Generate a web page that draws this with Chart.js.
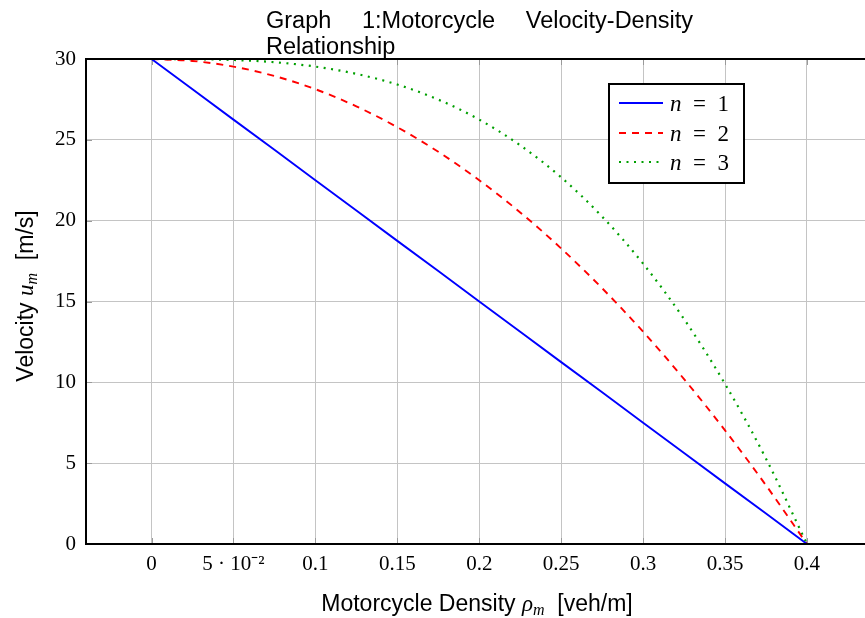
<!DOCTYPE html>
<html>
<head>
<meta charset="utf-8">
<script src="https://cdn.jsdelivr.net/npm/chart.js@4/dist/chart.umd.min.js"></script>
<style>
  body { margin: 0; overflow: hidden; background: #fff; }
  #wrap { width: 880px; height: 618px; }
</style>
</head>
<body>
<div id="wrap"><canvas id="chart" width="880" height="618"></canvas></div>
<script>
// density values (veh/m) read along the x axis
var density = [0, 0.025, 0.05, 0.075, 0.1, 0.125, 0.15, 0.175, 0.2, 0.225, 0.25, 0.275, 0.3, 0.325, 0.35, 0.375, 0.4];
// velocity curves
var velN1 = [30, 28.13, 26.25, 24.38, 22.5, 20.63, 18.75, 16.88, 15, 13.13, 11.25, 9.38, 7.5, 5.63, 3.75, 1.88, 0];
var velN2 = [30, 29.88, 29.53, 28.95, 28.13, 27.07, 25.78, 24.26, 22.5, 20.51, 18.28, 15.82, 13.13, 10.2, 7.03, 3.63, 0];
var velN3 = [30, 29.99, 29.94, 29.8, 29.53, 29.08, 28.42, 27.49, 26.25, 24.66, 22.68, 20.25, 17.34, 13.91, 9.9, 5.28, 0];
var seriesNames = ["1", "2", "3"];

var xTicks = [0, 0.05, 0.1, 0.15, 0.2, 0.25, 0.3, 0.35, 0.4];
var xTickLabels = ["0", "5 \u00b7 10\u207b\u00b2", "0.1", "0.15", "0.2", "0.25", "0.3", "0.35", "0.4"];
var yTicks = [0, 5, 10, 15, 20, 25, 30];

var titleWords = ["Graph", "1:Motorcycle", "Velocity-Density"];
var titleLine2 = "Relationship";

var SANS = '"Liberation Sans", Arial, sans-serif';
var SERIF = '"Liberation Serif", "Times New Roman", serif';

function pts(ys) {
  var out = [];
  for (var i = 0; i < density.length; i++) out.push({x: density[i], y: ys[i]});
  return out;
}

// draws text made of pieces: [text, font, dy]
function drawPieces(ctx, pieces, x, y) {
  for (var i = 0; i < pieces.length; i++) {
    ctx.font = pieces[i][1];
    ctx.fillText(pieces[i][0], x, y + (pieces[i][2] || 0));
    x += ctx.measureText(pieces[i][0]).width;
  }
}
function piecesWidth(ctx, pieces) {
  var w = 0;
  for (var i = 0; i < pieces.length; i++) {
    ctx.font = pieces[i][1];
    w += ctx.measureText(pieces[i][0]).width;
  }
  return w;
}

var decor = {
  id: 'decor',
  beforeDatasetsDraw: function(chart) {
    var ctx = chart.ctx, a = chart.chartArea;
    ctx.save();
    // little inner tick marks
    ctx.strokeStyle = '#9a9a9a';
    ctx.lineWidth = 1;
    var xs = chart.scales.x, ys = chart.scales.y;
    xTicks.forEach(function(v) {
      var px = Math.round(xs.getPixelForValue(v)) + 0.5;
      ctx.beginPath(); ctx.moveTo(px, a.bottom); ctx.lineTo(px, a.bottom - 6); ctx.stroke();
      ctx.beginPath(); ctx.moveTo(px, a.top); ctx.lineTo(px, a.top + 6); ctx.stroke();
    });
    yTicks.forEach(function(v) {
      var py = Math.round(ys.getPixelForValue(v)) + 0.5;
      ctx.beginPath(); ctx.moveTo(a.left, py); ctx.lineTo(a.left + 6, py); ctx.stroke();
    });
    ctx.restore();
  },
  afterDatasetsDraw: function(chart) {
    var ctx = chart.ctx, a = chart.chartArea;
    ctx.save();
    // frame
    ctx.strokeStyle = '#000';
    ctx.lineWidth = 2;
    ctx.strokeRect(a.left, a.top, a.right - a.left, a.bottom - a.top);

    // title, justified first line
    ctx.fillStyle = '#000';
    ctx.textBaseline = 'alphabetic';
    ctx.font = '23.5px ' + SANS;
    var tl = 266, tr = 693, total = 0;
    titleWords.forEach(function(w) { total += ctx.measureText(w).width; });
    var gap = (tr - tl - total) / (titleWords.length - 1);
    var tx = tl;
    titleWords.forEach(function(w) { ctx.fillText(w, tx, 28); tx += ctx.measureText(w).width + gap; });
    ctx.fillText(titleLine2, tl, 54);

    // x axis title
    var xp = [
      ['Motorcycle Density ', '23px ' + SANS],
      ['\u03c1', 'italic 23px ' + SERIF],
      ['m', 'italic 16px ' + SERIF, 4],
      ['  [veh/m]', '23px ' + SANS]
    ];
    var w = piecesWidth(ctx, xp);
    drawPieces(ctx, xp, 477 - w / 2, 611);

    // y axis title
    var yp = [
      ['Velocity ', '23px ' + SANS],
      ['u', 'italic 23px ' + SERIF],
      ['m', 'italic 16px ' + SERIF, 4],
      ['  [m/s]', '23px ' + SANS]
    ];
    w = piecesWidth(ctx, yp);
    ctx.save();
    ctx.translate(33, 296);
    ctx.rotate(-Math.PI / 2);
    drawPieces(ctx, yp, -w / 2, 0);
    ctx.restore();

    // legend
    var lx = 609, ly = 84, lw = 135, lh = 99;
    ctx.fillStyle = '#fff';
    ctx.fillRect(lx, ly, lw, lh);
    ctx.strokeStyle = '#000';
    ctx.lineWidth = 2;
    ctx.strokeRect(lx, ly, lw, lh);
    var rows = [103, 133, 162];
    chart.data.datasets.forEach(function(ds, i) {
      ctx.save();
      ctx.strokeStyle = ds.borderColor;
      ctx.lineWidth = ds.borderWidth;
      ctx.lineCap = ds.borderCapStyle || 'butt';
      ctx.setLineDash(ds.borderDash || []);
      ctx.beginPath(); ctx.moveTo(619, rows[i]); ctx.lineTo(663, rows[i]); ctx.stroke();
      ctx.restore();
      ctx.fillStyle = '#000';
      drawPieces(ctx, [
        ['n', 'italic 23px ' + SERIF],
        ['\u2002=\u2002' + seriesNames[i], '23px ' + SERIF]
      ], 670, rows[i] + 8);
    });
    ctx.restore();
  }
};

new Chart(document.getElementById('chart'), {
  type: 'line',
  data: {
    datasets: [{
      label: 'n = 1',
      data: pts(velN1),
      borderColor: '#0000ff',
      borderWidth: 1.9,
      pointRadius: 0
    }, {
      label: 'n = 2',
      data: pts(velN2),
      borderColor: '#ff0000',
      borderWidth: 1.9,
      borderDash: [7, 6],
      cubicInterpolationMode: 'monotone',
      pointRadius: 0
    }, {
      label: 'n = 3',
      data: pts(velN3),
      borderColor: '#00a000',
      borderWidth: 2.2,
      borderDash: [2, 5.5],
      cubicInterpolationMode: 'monotone',
      pointRadius: 0
    }]
  },
  options: {
    responsive: false,
    animation: false,
    layout: { padding: { top: 59, right: 7.5, left: 0, bottom: 0 } },
    plugins: { legend: { display: false }, title: { display: false }, tooltip: { enabled: false } },
    elements: { line: { fill: false } },
    scales: {
      x: {
        type: 'linear',
        min: -0.04,
        max: 0.44,
        afterBuildTicks: function(s) { s.ticks = xTicks.map(function(v) { return {value: v}; }); },
        afterFit: function(s) { s.height = 74; },
        grid: { color: '#c4c4c4', lineWidth: 1, drawTicks: false },
        border: { display: false },
        ticks: {
          padding: 8,
          color: '#000',
          font: { family: SERIF, size: 21 },
          maxRotation: 0,
          autoSkip: false,
          callback: function(v) { var i = xTicks.indexOf(v); return i >= 0 ? xTickLabels[i] : ''; }
        }
      },
      y: {
        type: 'linear',
        min: 0,
        max: 30,
        afterBuildTicks: function(s) { s.ticks = yTicks.map(function(v) { return {value: v}; }); },
        afterFit: function(s) { s.width = 86; },
        grid: { color: '#c4c4c4', lineWidth: 1, drawTicks: false },
        border: { display: false },
        ticks: {
          padding: 10,
          color: '#000',
          font: { family: SERIF, size: 21 }
        }
      }
    }
  },
  plugins: [decor]
});
</script>
</body>
</html>
